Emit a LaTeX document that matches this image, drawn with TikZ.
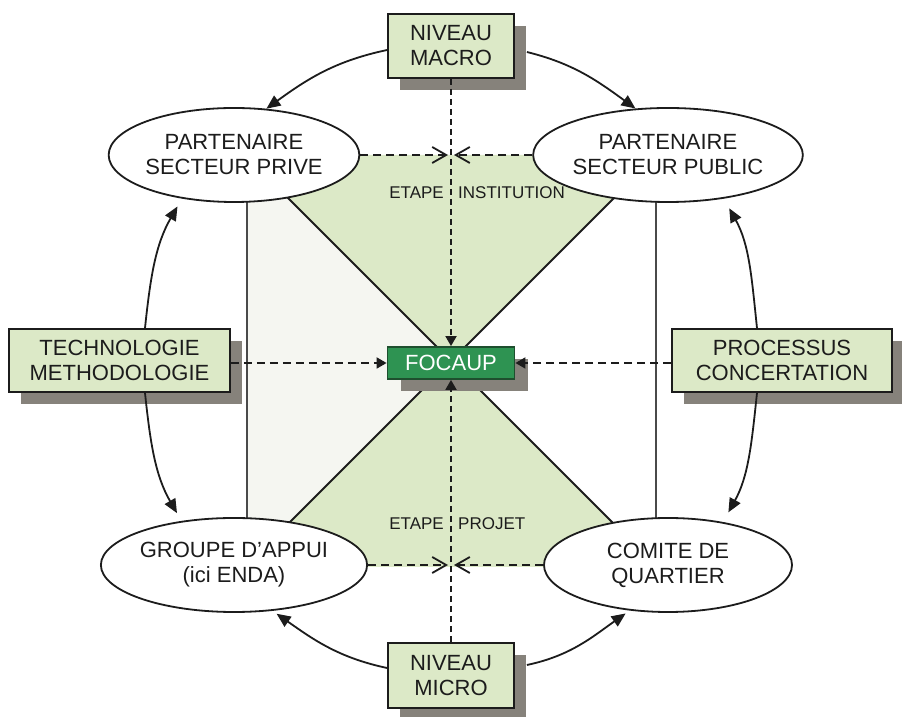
\documentclass[tikz,border=0pt]{standalone}
\usepackage{fontspec}
\setmainfont{Liberation Sans}
\usetikzlibrary{shapes.geometric,arrows.meta,shadows}
\definecolor{boxg}{HTML}{DCE9C7}
\definecolor{shad}{HTML}{86827B}
\definecolor{focg}{HTML}{2E9352}
\definecolor{focd}{HTML}{1E4F2E}
\definecolor{dotg}{HTML}{F5F6F1}
\definecolor{ink}{HTML}{1C1C1C}
\definecolor{gline}{HTML}{4A4A4A}
\begin{document}
\begin{tikzpicture}[x=1pt,y=1pt,
  lbl/.style={font=\fontsize{22}{25}\selectfont, text=ink, align=center},
  gbox/.style={lbl, draw=ink, line width=1.8pt, fill=boxg, inner sep=0pt,
     general shadow={shadow xshift=12pt, shadow yshift=-12pt, fill=shad}},
  oval/.style={lbl, ellipse, draw=ink, line width=1.8pt, fill=white,
     minimum width=248pt, minimum height=94pt, inner sep=0pt},
  curv/.style={draw=ink, line width=1.8pt, -{Triangle[length=14pt,width=12pt]}},
  dsh/.style={draw=ink, line width=1.8pt, dash pattern=on 8pt off 5pt},
  vdsh/.style={draw=ink, line width=1.8pt, dash pattern=on 6pt off 4pt},
  tipa/.style={-{Triangle[length=10pt,width=11pt]}},
  barb/.style={-{Straight Barb[length=14pt,width=16pt]}},
  small/.style={font=\fontsize{17}{20}\selectfont, text=ink, inner sep=0pt}
]
\useasboundingbox (0,0) rectangle (902,717);
\fill[white] (0,0) rectangle (902,717);

% background regions
\fill[dotg] (247,562) -- (451,356) -- (247,150) -- cycle;
\fill[boxg] (245,562) -- (657,562) -- (451,356) -- cycle;
\fill[boxg] (245,150) -- (657,150) -- (451,356) -- cycle;
\draw[line width=1.8pt, draw=ink] (245,562) -- (657,150);
\draw[line width=1.8pt, draw=ink] (657,562) -- (245,150);
\draw[line width=1.8pt, draw=gline] (247,562) -- (247,150);
\draw[line width=1.8pt, draw=gline] (656,562) -- (656,150);

% nodes
\node[gbox, minimum width=126pt, minimum height=64pt] (macro) at (451,671) {NIVEAU\\MACRO};
\node[gbox, minimum width=126pt, minimum height=65pt] (micro) at (451,41.5) {NIVEAU\\MICRO};
\node[gbox, minimum width=221pt, minimum height=63pt] (tech) at (119.5,356.5) {TECHNOLOGIE\\METHODOLOGIE};
\node[gbox, minimum width=220pt, minimum height=63pt] (proc) at (782,356.5) {PROCESSUS\\CONCERTATION};
\node[lbl, draw=focd, line width=1.8pt, fill=focg, text=white, inner sep=0pt,
      minimum width=127pt, minimum height=32pt,
      general shadow={shadow xshift=13pt, shadow yshift=-12pt, fill=shad}] (foc) at (451,354) {FOCAUP};

\node[oval] (pl) at (234,562) {PARTENAIRE\\SECTEUR PRIVE};
\node[oval] (pu) at (668,562) {PARTENAIRE\\SECTEUR PUBLIC};
\node[oval] (ga) at (234,152) {GROUPE D’APPUI\\(ici ENDA)};
\node[oval] (cq) at (668,152) {COMITE DE\\QUARTIER};

\node[small, anchor=base east] (e1) at (444,518) {ETAPE};
\node[small, anchor=base west] (i1) at (458,518) {INSTITUTION};
\node[small, anchor=base east] (e2) at (444,187) {ETAPE};
\node[small, anchor=base west] (p2) at (458,187) {PROJET};

\coordinate (mt) at (451,562);
\coordinate (mb) at (451,152);

% dashed connectors
\draw[dsh,barb] (pl.east) -- ([xshift=-3pt]mt);
\draw[dsh,barb] (pu.west) -- ([xshift=3pt]mt);
\draw[dsh,barb] (ga.east) -- ([xshift=-3pt]mb);
\draw[dsh,barb] (cq.west) -- ([xshift=3pt]mb);
\draw[vdsh,tipa] (macro.south) -- (foc.north);
\draw[vdsh,tipa] (micro.north) -- (foc.south);
\draw[dsh,tipa] (foc.west -| tech.east) -- (foc.west);
\draw[dsh,tipa] (foc.east -| proc.west) -- (foc.east);

% curved connectors
\draw[curv] ([yshift=-4pt]macro.west) to[out=192,in=36] (pl.55);
\draw[curv] ([xshift=12pt,yshift=-6pt]macro.east) to[out=-14,in=144] (pu.125);
\draw[curv,shorten >=9pt] ([xshift=25.5pt]tech.north) to[out=84,in=240] (pl.220);
\draw[curv,shorten >=9pt] ([xshift=25.5pt]tech.south) to[out=276,in=120] (ga.140);
\draw[curv,shorten >=11pt] ([xshift=-25pt]proc.north) to[out=96,in=299] (pu.322);
\draw[curv,shorten >=11pt] ([xshift=-25pt]proc.south) to[out=264,in=61] (cq.38);
\draw[curv,shorten >=5pt] ([yshift=7.5pt]micro.west) to[out=168,in=325] (ga.310);
\draw[curv,shorten >=5pt] ([xshift=12pt,yshift=10.5pt]micro.east) to[out=12,in=215] (cq.230);
\end{tikzpicture}
\end{document}
